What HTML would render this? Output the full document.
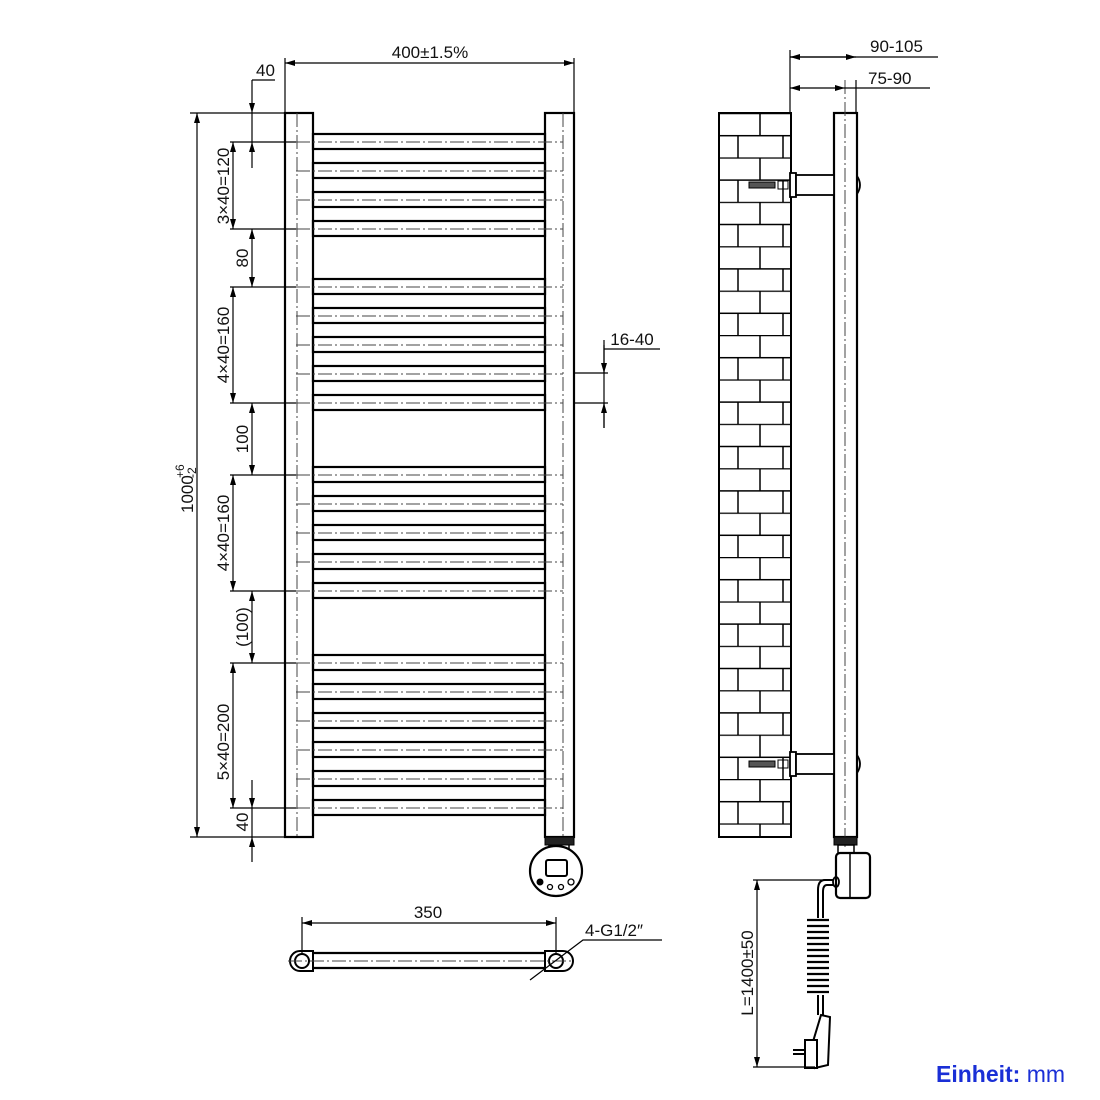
<!DOCTYPE html>
<html><head><meta charset="utf-8"><style>
html,body{margin:0;padding:0;background:#fff;}
svg{display:block;}
text{font-family:"Liberation Sans",sans-serif;fill:#111;}
</style></head><body>
<svg width="1100" height="1100" viewBox="0 0 1100 1100" xmlns="http://www.w3.org/2000/svg">
<defs>
<marker id="a" viewBox="0 0 10 6" refX="10" refY="3" markerWidth="10" markerHeight="6" orient="auto-start-reverse" markerUnits="userSpaceOnUse"><path d="M0,0L10,3L0,6z" fill="#000"/></marker>
<pattern id="brick" x="719" y="113" width="72" height="44.4" patternUnits="userSpaceOnUse">
<path d="M0,0.5H72M0,22.7H72M41,0V22.2M19,22.2V44.4M64,22.2V44.4" stroke="#000" stroke-width="1.5" fill="none"/>
</pattern>
</defs>
<g fill="none" stroke="#000">
<rect x="285" y="113" width="28" height="724" stroke-width="2.2"/>
<rect x="545" y="113" width="29" height="724" stroke-width="2.2"/>
<line x1="297" y1="113" x2="297" y2="837" stroke-width="1" stroke-dasharray="14,3,2,3" stroke="#444"/>
<line x1="563" y1="113" x2="563" y2="837" stroke-width="1" stroke-dasharray="14,3,2,3" stroke="#444"/>
<g stroke-width="2.2">
<rect x="313" y="134" width="232" height="15"/><rect x="313" y="163" width="232" height="15"/><rect x="313" y="192" width="232" height="15"/><rect x="313" y="221" width="232" height="15"/>
<rect x="313" y="279" width="232" height="15"/><rect x="313" y="308" width="232" height="15"/><rect x="313" y="337" width="232" height="15"/><rect x="313" y="366" width="232" height="15"/><rect x="313" y="395" width="232" height="15"/>
<rect x="313" y="467" width="232" height="15"/><rect x="313" y="496" width="232" height="15"/><rect x="313" y="525" width="232" height="15"/><rect x="313" y="554" width="232" height="15"/><rect x="313" y="583" width="232" height="15"/>
<rect x="313" y="655" width="232" height="15"/><rect x="313" y="684" width="232" height="15"/><rect x="313" y="713" width="232" height="15"/><rect x="313" y="742" width="232" height="15"/><rect x="313" y="771" width="232" height="15"/><rect x="313" y="800" width="232" height="15"/>
</g>
<g stroke-width="1" stroke="#444" stroke-dasharray="14,3,2,3">
<path d="M296,142H563M296,171H563M296,200H563M296,229H563M296,287H563M296,316H563M296,345H563M296,374H563M296,403H563M296,475H563M296,504H563M296,533H563M296,562H563M296,591H563M296,663H563M296,692H563M296,721H563M296,750H563M296,779H563M296,808H563"/>
</g>
<g stroke-width="1.2">
<path d="M190,113H285M190,837H285M230,142H296M230,229H296M230,287H296M230,403H296M230,475H296M230,591H296M230,663H296M230,808H296"/>
<line x1="197" y1="113" x2="197" y2="837" marker-start="url(#a)" marker-end="url(#a)"/>
<line x1="233" y1="142" x2="233" y2="229" marker-start="url(#a)" marker-end="url(#a)"/>
<line x1="252" y1="229" x2="252" y2="287" marker-start="url(#a)" marker-end="url(#a)"/>
<line x1="233" y1="287" x2="233" y2="403" marker-start="url(#a)" marker-end="url(#a)"/>
<line x1="252" y1="403" x2="252" y2="475" marker-start="url(#a)" marker-end="url(#a)"/>
<line x1="233" y1="475" x2="233" y2="591" marker-start="url(#a)" marker-end="url(#a)"/>
<line x1="252" y1="591" x2="252" y2="663" marker-start="url(#a)" marker-end="url(#a)"/>
<line x1="233" y1="663" x2="233" y2="808" marker-start="url(#a)" marker-end="url(#a)"/>
<line x1="252" y1="780" x2="252" y2="808" marker-end="url(#a)"/>
<line x1="252" y1="862" x2="252" y2="837" marker-end="url(#a)"/>
<line x1="252" y1="837" x2="252" y2="808"/>
<path d="M252,80H275"/>
<line x1="252" y1="80" x2="252" y2="113" marker-end="url(#a)"/>
<line x1="252" y1="168" x2="252" y2="142" marker-end="url(#a)"/>
<line x1="252" y1="142" x2="252" y2="113"/>
<path d="M285,113V58M574,113V58"/>
<line x1="285" y1="63" x2="574" y2="63" marker-start="url(#a)" marker-end="url(#a)"/>
<path d="M574,373H608M574,403H608M604,340V428M604,349H660"/>
<line x1="604" y1="345" x2="604" y2="373" marker-end="url(#a)"/>
<line x1="604" y1="428" x2="604" y2="403" marker-end="url(#a)"/>
</g>
<rect x="545" y="837" width="29" height="8" fill="#222" stroke-width="1"/>
<path d="M549,845V856H569V845" stroke-width="1.5"/>
<ellipse cx="556" cy="871" rx="26" ry="25" stroke-width="2.2" fill="#fff"/>
<rect x="546" y="860" width="21" height="16" rx="2" stroke-width="2"/>
<circle cx="540" cy="882" r="3" fill="#000"/><circle cx="550" cy="887" r="2.5" stroke-width="1.3"/><circle cx="561" cy="887" r="2.5" stroke-width="1.3"/><circle cx="571" cy="882" r="3" stroke-width="1.3"/>
<path d="M313,953H545M313,968H545" stroke-width="2.2"/>
<path d="M300,951H313V971H300A10,10 0 0 1 300,951Z M545,951H563A10,10 0 0 1 563,971H545Z" stroke-width="2" fill="#fff"/>
<circle cx="302" cy="961" r="7" stroke-width="2"/><circle cx="556" cy="961" r="7" stroke-width="2"/>
<path d="M288,961H572" stroke-width="1" stroke-dasharray="14,3,2,3" stroke="#444"/>
<g stroke-width="1.2">
<path d="M302,953V917M556,953V917"/>
<line x1="302" y1="923" x2="556" y2="923" marker-start="url(#a)" marker-end="url(#a)"/>
<path d="M530,980L583,940H662"/>
</g>
<rect x="719" y="113" width="72" height="724" fill="url(#brick)" stroke-width="2"/>
<rect x="834" y="113" width="23" height="724" stroke-width="2.2" fill="#fff"/>
<line x1="845" y1="80" x2="845" y2="850" stroke-width="1" stroke-dasharray="14,3,2,3" stroke="#444"/>
<g stroke-width="1.8">
<rect x="790" y="173" width="6" height="24" fill="#fff"/><rect x="796" y="175" width="38" height="20" fill="#fff"/>
<path d="M857,176Q863,185 857,194"/>
<rect x="790" y="752" width="6" height="24" fill="#fff"/><rect x="796" y="754" width="38" height="20" fill="#fff"/>
<path d="M857,755Q863,764 857,773"/>
</g>
<g stroke-width="1">
<rect x="749" y="182" width="26" height="6" fill="#555"/><rect x="778" y="181" width="10" height="8"/>
<rect x="749" y="761" width="26" height="6" fill="#555"/><rect x="778" y="760" width="10" height="8"/>
</g>
<g stroke-width="1.2">
<path d="M790,113V50M856,113V80M790,57H938M845,88H930"/>
<line x1="790" y1="57" x2="856" y2="57" marker-start="url(#a)" marker-end="url(#a)"/>
<line x1="790" y1="88" x2="845" y2="88" marker-start="url(#a)" marker-end="url(#a)"/>
</g>
<rect x="834" y="837" width="23" height="8" fill="#222" stroke-width="1"/>
<rect x="838" y="845" width="16" height="8" stroke-width="1.5"/>
<rect x="836" y="853" width="34" height="45" rx="4" stroke-width="2.2" fill="#fff"/>
<path d="M850,853V898" stroke-width="1.5"/>
<ellipse cx="836" cy="882" rx="3" ry="5" stroke-width="1.8"/>
<path d="M833,880H825Q818,880 818,890V918" stroke-width="2"/>
<path d="M833,885H827Q823,885 823,892V918" stroke-width="2"/>
<g stroke-width="2.2">
<path d="M807,920H829M807,926H829M807,932H829M807,938H829M807,944H829M807,950H829M807,956H829M807,962H829M807,968H829M807,974H829M807,980H829M807,986H829M807,992H829"/>
</g>
<path d="M818,995V1015M823,995V1015" stroke-width="2"/>
<path d="M821,1015L830,1017L828,1065L815,1068L812,1045Z" stroke-width="2" fill="#fff"/>
<rect x="805" y="1040" width="12" height="28" stroke-width="2" fill="#fff"/>
<path d="M793,1050H805M793,1054H805" stroke-width="2"/>
<g stroke-width="1.2">
<path d="M753,880H833M753,1067H815"/>
<line x1="757" y1="880" x2="757" y2="1067" marker-start="url(#a)" marker-end="url(#a)"/>
</g>
</g>
<g font-size="17">
<text x="430" y="58" text-anchor="middle">400±1.5%</text>
<text x="256" y="76">40</text>
<text x="632" y="345" text-anchor="middle">16-40</text>
<text x="428" y="918" text-anchor="middle">350</text>
<text x="585" y="936">4-G1/2″</text>
<text x="870" y="52">90-105</text>
<text x="868" y="84">75-90</text>
<text transform="translate(229,186) rotate(-90)" text-anchor="middle">3×40=120</text>
<text transform="translate(248,258) rotate(-90)" text-anchor="middle">80</text>
<text transform="translate(229,345) rotate(-90)" text-anchor="middle">4×40=160</text>
<text transform="translate(248,439) rotate(-90)" text-anchor="middle">100</text>
<text transform="translate(229,533) rotate(-90)" text-anchor="middle">4×40=160</text>
<text transform="translate(248,627) rotate(-90)" text-anchor="middle">(100)</text>
<text transform="translate(229,742) rotate(-90)" text-anchor="middle">5×40=200</text>
<text transform="translate(248,822) rotate(-90)" text-anchor="middle">40</text>
<text transform="translate(193,513) rotate(-90)">1000</text>
<text transform="translate(184,478) rotate(-90)" font-size="12">+6</text>
<text transform="translate(196,478) rotate(-90)" font-size="12">-2</text>
<text transform="translate(753,973) rotate(-90)" text-anchor="middle">L=1400±50</text>
</g>
<text x="936" y="1082" font-size="23" style="fill:#1a2fd6"><tspan font-weight="bold">Einheit:</tspan> mm</text>
</svg>
</body></html>
